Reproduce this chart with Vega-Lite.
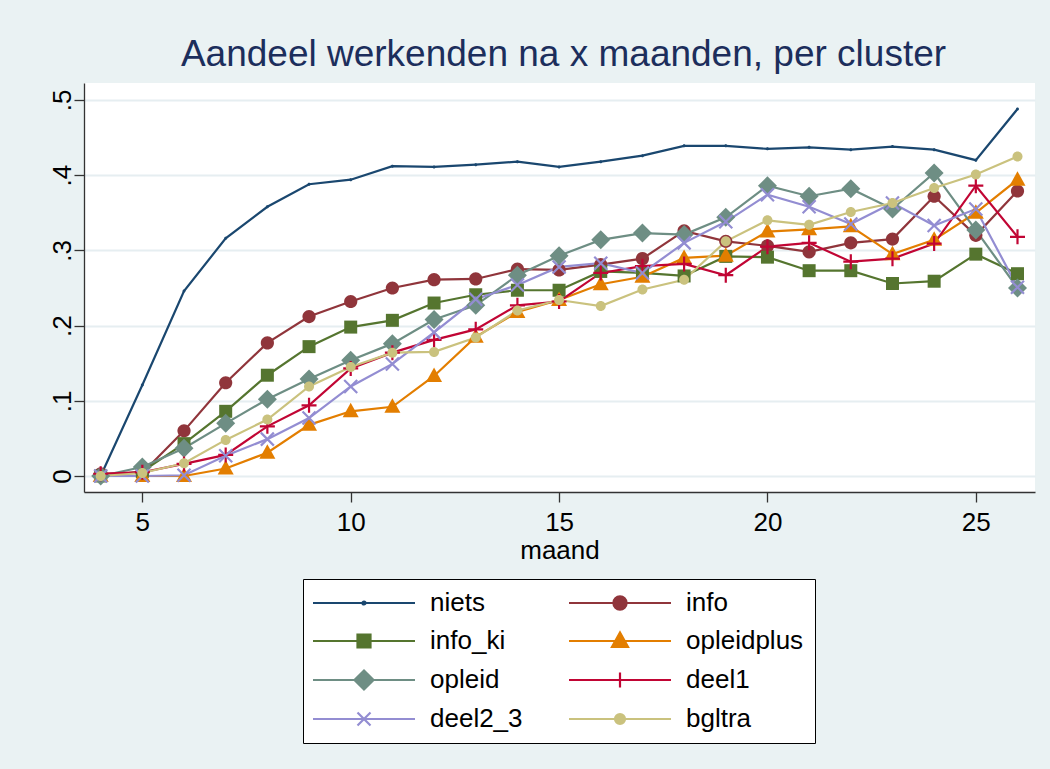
{
  "$schema": "https://vega.github.io/schema/vega-lite/v6.json",
  "autosize": {"type": "none"},
  "padding": {"left": 84, "top": 83, "right": 15, "bottom": 277},
  "width": 951,
  "height": 409,
  "background": "#EAF2F3",
  "view": {"fill": "white", "stroke": null},
  "config": {
    "font": "Liberation Sans",
    "axis": {"labelFont": "Liberation Sans", "titleFont": "Liberation Sans", "labelColor": "black", "titleColor": "black", "labelFontSize": 26, "titleFontSize": 26, "titleFontWeight": "normal", "domainColor": "#333333", "tickColor": "#333333", "tickSize": 10, "domainWidth": 1.3, "tickWidth": 1.3}
  },
  "title": {"text": "Aandeel werkenden na x maanden, per cluster", "font": "Liberation Sans", "fontSize": 37, "fontWeight": "normal", "color": "#1c2e5c", "anchor": "middle", "baseline": "alphabetic", "offset": 15, "dx": 4, "dy": 35},
  "data": {"values": [
    {"cluster":"niets","maand":4,"aandeel":0},{"cluster":"niets","maand":5,"aandeel":0.121},{"cluster":"niets","maand":6,"aandeel":0.246},{"cluster":"niets","maand":7,"aandeel":0.316},{"cluster":"niets","maand":8,"aandeel":0.358},{"cluster":"niets","maand":9,"aandeel":0.388},{"cluster":"niets","maand":10,"aandeel":0.394},{"cluster":"niets","maand":11,"aandeel":0.412},{"cluster":"niets","maand":12,"aandeel":0.411},{"cluster":"niets","maand":13,"aandeel":0.414},{"cluster":"niets","maand":14,"aandeel":0.418},{"cluster":"niets","maand":15,"aandeel":0.411},{"cluster":"niets","maand":16,"aandeel":0.418},{"cluster":"niets","maand":17,"aandeel":0.426},{"cluster":"niets","maand":18,"aandeel":0.439},{"cluster":"niets","maand":19,"aandeel":0.439},{"cluster":"niets","maand":20,"aandeel":0.435},{"cluster":"niets","maand":21,"aandeel":0.437},{"cluster":"niets","maand":22,"aandeel":0.434},{"cluster":"niets","maand":23,"aandeel":0.438},{"cluster":"niets","maand":24,"aandeel":0.434},{"cluster":"niets","maand":25,"aandeel":0.420},{"cluster":"niets","maand":26,"aandeel":0.488},
    {"cluster":"info","maand":4,"aandeel":0.003},{"cluster":"info","maand":5,"aandeel":0.004},{"cluster":"info","maand":6,"aandeel":0.060},{"cluster":"info","maand":7,"aandeel":0.124},{"cluster":"info","maand":8,"aandeel":0.177},{"cluster":"info","maand":9,"aandeel":0.212},{"cluster":"info","maand":10,"aandeel":0.232},{"cluster":"info","maand":11,"aandeel":0.250},{"cluster":"info","maand":12,"aandeel":0.261},{"cluster":"info","maand":13,"aandeel":0.262},{"cluster":"info","maand":14,"aandeel":0.275},{"cluster":"info","maand":15,"aandeel":0.274},{"cluster":"info","maand":16,"aandeel":0.281},{"cluster":"info","maand":17,"aandeel":0.289},{"cluster":"info","maand":18,"aandeel":0.326},{"cluster":"info","maand":19,"aandeel":0.312},{"cluster":"info","maand":20,"aandeel":0.306},{"cluster":"info","maand":21,"aandeel":0.298},{"cluster":"info","maand":22,"aandeel":0.310},{"cluster":"info","maand":23,"aandeel":0.315},{"cluster":"info","maand":24,"aandeel":0.372},{"cluster":"info","maand":25,"aandeel":0.320},{"cluster":"info","maand":26,"aandeel":0.379},
    {"cluster":"info_ki","maand":4,"aandeel":0},{"cluster":"info_ki","maand":5,"aandeel":0.006},{"cluster":"info_ki","maand":6,"aandeel":0.043},{"cluster":"info_ki","maand":7,"aandeel":0.086},{"cluster":"info_ki","maand":8,"aandeel":0.134},{"cluster":"info_ki","maand":9,"aandeel":0.172},{"cluster":"info_ki","maand":10,"aandeel":0.198},{"cluster":"info_ki","maand":11,"aandeel":0.207},{"cluster":"info_ki","maand":12,"aandeel":0.230},{"cluster":"info_ki","maand":13,"aandeel":0.241},{"cluster":"info_ki","maand":14,"aandeel":0.247},{"cluster":"info_ki","maand":15,"aandeel":0.247},{"cluster":"info_ki","maand":16,"aandeel":0.272},{"cluster":"info_ki","maand":17,"aandeel":0.270},{"cluster":"info_ki","maand":18,"aandeel":0.266},{"cluster":"info_ki","maand":19,"aandeel":0.292},{"cluster":"info_ki","maand":20,"aandeel":0.291},{"cluster":"info_ki","maand":21,"aandeel":0.273},{"cluster":"info_ki","maand":22,"aandeel":0.273},{"cluster":"info_ki","maand":23,"aandeel":0.256},{"cluster":"info_ki","maand":24,"aandeel":0.259},{"cluster":"info_ki","maand":25,"aandeel":0.295},{"cluster":"info_ki","maand":26,"aandeel":0.269},
    {"cluster":"opleidplus","maand":4,"aandeel":0},{"cluster":"opleidplus","maand":5,"aandeel":0},{"cluster":"opleidplus","maand":6,"aandeel":0},{"cluster":"opleidplus","maand":7,"aandeel":0.010},{"cluster":"opleidplus","maand":8,"aandeel":0.031},{"cluster":"opleidplus","maand":9,"aandeel":0.068},{"cluster":"opleidplus","maand":10,"aandeel":0.086},{"cluster":"opleidplus","maand":11,"aandeel":0.092},{"cluster":"opleidplus","maand":12,"aandeel":0.133},{"cluster":"opleidplus","maand":13,"aandeel":0.185},{"cluster":"opleidplus","maand":14,"aandeel":0.218},{"cluster":"opleidplus","maand":15,"aandeel":0.234},{"cluster":"opleidplus","maand":16,"aandeel":0.255},{"cluster":"opleidplus","maand":17,"aandeel":0.265},{"cluster":"opleidplus","maand":18,"aandeel":0.290},{"cluster":"opleidplus","maand":19,"aandeel":0.293},{"cluster":"opleidplus","maand":20,"aandeel":0.325},{"cluster":"opleidplus","maand":21,"aandeel":0.328},{"cluster":"opleidplus","maand":22,"aandeel":0.332},{"cluster":"opleidplus","maand":23,"aandeel":0.295},{"cluster":"opleidplus","maand":24,"aandeel":0.314},{"cluster":"opleidplus","maand":25,"aandeel":0.350},{"cluster":"opleidplus","maand":26,"aandeel":0.394},
    {"cluster":"opleid","maand":4,"aandeel":0},{"cluster":"opleid","maand":5,"aandeel":0.012},{"cluster":"opleid","maand":6,"aandeel":0.037},{"cluster":"opleid","maand":7,"aandeel":0.070},{"cluster":"opleid","maand":8,"aandeel":0.102},{"cluster":"opleid","maand":9,"aandeel":0.129},{"cluster":"opleid","maand":10,"aandeel":0.154},{"cluster":"opleid","maand":11,"aandeel":0.176},{"cluster":"opleid","maand":12,"aandeel":0.208},{"cluster":"opleid","maand":13,"aandeel":0.227},{"cluster":"opleid","maand":14,"aandeel":0.267},{"cluster":"opleid","maand":15,"aandeel":0.293},{"cluster":"opleid","maand":16,"aandeel":0.314},{"cluster":"opleid","maand":17,"aandeel":0.323},{"cluster":"opleid","maand":18,"aandeel":0.321},{"cluster":"opleid","maand":19,"aandeel":0.344},{"cluster":"opleid","maand":20,"aandeel":0.386},{"cluster":"opleid","maand":21,"aandeel":0.372},{"cluster":"opleid","maand":22,"aandeel":0.382},{"cluster":"opleid","maand":23,"aandeel":0.355},{"cluster":"opleid","maand":24,"aandeel":0.403},{"cluster":"opleid","maand":25,"aandeel":0.327},{"cluster":"opleid","maand":26,"aandeel":0.250},
    {"cluster":"deel1","maand":4,"aandeel":0.003},{"cluster":"deel1","maand":5,"aandeel":0.005},{"cluster":"deel1","maand":6,"aandeel":0.016},{"cluster":"deel1","maand":7,"aandeel":0.028},{"cluster":"deel1","maand":8,"aandeel":0.066},{"cluster":"deel1","maand":9,"aandeel":0.094},{"cluster":"deel1","maand":10,"aandeel":0.143},{"cluster":"deel1","maand":11,"aandeel":0.164},{"cluster":"deel1","maand":12,"aandeel":0.181},{"cluster":"deel1","maand":13,"aandeel":0.195},{"cluster":"deel1","maand":14,"aandeel":0.227},{"cluster":"deel1","maand":15,"aandeel":0.232},{"cluster":"deel1","maand":16,"aandeel":0.270},{"cluster":"deel1","maand":17,"aandeel":0.279},{"cluster":"deel1","maand":18,"aandeel":0.282},{"cluster":"deel1","maand":19,"aandeel":0.267},{"cluster":"deel1","maand":20,"aandeel":0.305},{"cluster":"deel1","maand":21,"aandeel":0.310},{"cluster":"deel1","maand":22,"aandeel":0.285},{"cluster":"deel1","maand":23,"aandeel":0.289},{"cluster":"deel1","maand":24,"aandeel":0.309},{"cluster":"deel1","maand":25,"aandeel":0.386},{"cluster":"deel1","maand":26,"aandeel":0.318},
    {"cluster":"deel2_3","maand":4,"aandeel":0},{"cluster":"deel2_3","maand":5,"aandeel":0},{"cluster":"deel2_3","maand":6,"aandeel":0.001},{"cluster":"deel2_3","maand":7,"aandeel":0.027},{"cluster":"deel2_3","maand":8,"aandeel":0.049},{"cluster":"deel2_3","maand":9,"aandeel":0.077},{"cluster":"deel2_3","maand":10,"aandeel":0.119},{"cluster":"deel2_3","maand":11,"aandeel":0.149},{"cluster":"deel2_3","maand":12,"aandeel":0.191},{"cluster":"deel2_3","maand":13,"aandeel":0.235},{"cluster":"deel2_3","maand":14,"aandeel":0.254},{"cluster":"deel2_3","maand":15,"aandeel":0.278},{"cluster":"deel2_3","maand":16,"aandeel":0.283},{"cluster":"deel2_3","maand":17,"aandeel":0.270},{"cluster":"deel2_3","maand":18,"aandeel":0.310},{"cluster":"deel2_3","maand":19,"aandeel":0.338},{"cluster":"deel2_3","maand":20,"aandeel":0.374},{"cluster":"deel2_3","maand":21,"aandeel":0.358},{"cluster":"deel2_3","maand":22,"aandeel":0.335},{"cluster":"deel2_3","maand":23,"aandeel":0.363},{"cluster":"deel2_3","maand":24,"aandeel":0.333},{"cluster":"deel2_3","maand":25,"aandeel":0.355},{"cluster":"deel2_3","maand":26,"aandeel":0.251},
    {"cluster":"bgltra","maand":4,"aandeel":0},{"cluster":"bgltra","maand":5,"aandeel":0.004},{"cluster":"bgltra","maand":6,"aandeel":0.017},{"cluster":"bgltra","maand":7,"aandeel":0.048},{"cluster":"bgltra","maand":8,"aandeel":0.075},{"cluster":"bgltra","maand":9,"aandeel":0.119},{"cluster":"bgltra","maand":10,"aandeel":0.145},{"cluster":"bgltra","maand":11,"aandeel":0.164},{"cluster":"bgltra","maand":12,"aandeel":0.165},{"cluster":"bgltra","maand":13,"aandeel":0.184},{"cluster":"bgltra","maand":14,"aandeel":0.220},{"cluster":"bgltra","maand":15,"aandeel":0.234},{"cluster":"bgltra","maand":16,"aandeel":0.226},{"cluster":"bgltra","maand":17,"aandeel":0.248},{"cluster":"bgltra","maand":18,"aandeel":0.261},{"cluster":"bgltra","maand":19,"aandeel":0.312},{"cluster":"bgltra","maand":20,"aandeel":0.340},{"cluster":"bgltra","maand":21,"aandeel":0.334},{"cluster":"bgltra","maand":22,"aandeel":0.351},{"cluster":"bgltra","maand":23,"aandeel":0.363},{"cluster":"bgltra","maand":24,"aandeel":0.383},{"cluster":"bgltra","maand":25,"aandeel":0.401},{"cluster":"bgltra","maand":26,"aandeel":0.425}
  ]},
  "encoding": {
    "x": {"field": "maand", "type": "quantitative", "scale": {"domain": [3.6, 26.42], "nice": false, "zero": false},
      "axis": {"values": [5, 10, 15, 20, 25], "grid": false, "labelPadding": 7, "title": "maand", "titlePadding": 2, "labelFlush": false}},
    "y": {"field": "aandeel", "type": "quantitative", "scale": {"domain": [-0.0213, 0.5226], "nice": false, "zero": false},
      "axis": {"values": [0, 0.1, 0.2, 0.3, 0.4, 0.5], "grid": true, "gridColor": "#E6EEF1", "gridWidth": 2, "labelAngle": -90, "labelAlign": "center", "labelBaseline": "alphabetic", "labelPadding": 4, "labelFlush": false, "title": null,
        "labelExpr": "datum.value == 0 ? '0' : replace(format(datum.value, '.1f'), '0.', '.')"}},
    "color": {"field": "cluster", "type": "nominal",
      "scale": {"domain": ["niets", "info", "info_ki", "opleidplus", "opleid", "deel1", "deel2_3", "bgltra"],
                "range": ["#1A476F", "#90353B", "#55752F", "#E37E00", "#6E8E84", "#C10534", "#938DD2", "#CAC27E"]},
      "legend": {
        "orient": "none", "legendX": 219, "legendY": 496, "columns": 2, "direction": "horizontal", "title": null,
        "padding": 11, "strokeColor": "black", "fillColor": "white",
        "labelFont": "Liberation Sans", "labelFontSize": 26, "labelColor": "black", "labelOffset": 90, "labelLimit": 300,
        "symbolSize": 4, "symbolStrokeWidth": 2.2, "rowPadding": 12, "columnPadding": 41,
        "encode": {"symbols": {"update": {
          "shape": {"signal": "['M-14,0H88M35.5,0A1.5,1.5 0 1,1 38.5,0A1.5,1.5 0 1,1 35.5,0Z','M-14,0H88M30.4,0A6.6,6.6 0 1,1 43.6,0A6.6,6.6 0 1,1 30.4,0Z','M-14,0H88M30.5,-6.5H43.5V6.5H30.5Z','M-14,0H88M37,-8.5L45,6H29Z','M-14,0H88M37,-9.5L46.5,0L37,9.5L27.5,0Z','M-14,0H88M37,-7.5V7.5','M-14,0H88M30.5,-6.5L43.5,6.5M30.5,6.5L43.5,-6.5','M-14,0H88M32,0A5,5 0 1,1 42,0A5,5 0 1,1 32,0Z'][indexof(['niets','info','info_ki','opleidplus','opleid','deel1','deel2_3','bgltra'], datum.value)]"},
          "fill": {"signal": "scale('color', datum.value)"},
          "stroke": {"signal": "scale('color', datum.value)"},
          "strokeWidth": {"value": 2.2},
          "size": {"value": 4}
        }}}
      }
    }
  },
  "layer": [
    {"mark": {"type": "line", "strokeWidth": 2.2}, "encoding": {"order": {"field": "maand", "type": "quantitative"}}},
    {"transform": [{"filter": "datum.cluster == 'niets'"}], "mark": {"type": "point", "filled": true, "size": 4, "opacity": 1, "shape": "M-1.5,0A1.5,1.5 0 1,1 1.5,0A1.5,1.5 0 1,1 -1.5,0Z"}},
    {"transform": [{"filter": "datum.cluster == 'info'"}], "mark": {"type": "point", "filled": true, "size": 4, "opacity": 1, "shape": "M-6.6,0A6.6,6.6 0 1,1 6.6,0A6.6,6.6 0 1,1 -6.6,0Z"}},
    {"transform": [{"filter": "datum.cluster == 'info_ki'"}], "mark": {"type": "point", "filled": true, "size": 4, "opacity": 1, "shape": "M-6.5,-6.5H6.5V6.5H-6.5Z"}},
    {"transform": [{"filter": "datum.cluster == 'opleidplus'"}], "mark": {"type": "point", "filled": true, "size": 4, "opacity": 1, "shape": "M0,-8.5L8,6H-8Z"}},
    {"transform": [{"filter": "datum.cluster == 'opleid'"}], "mark": {"type": "point", "filled": true, "size": 4, "opacity": 1, "shape": "M0,-9.5L9.5,0L0,9.5L-9.5,0Z"}},
    {"transform": [{"filter": "datum.cluster == 'deel1'"}], "mark": {"type": "point", "filled": false, "size": 4, "opacity": 1, "strokeWidth": 2.2, "shape": "M-7.5,0H7.5M0,-7.5V7.5"}},
    {"transform": [{"filter": "datum.cluster == 'deel2_3'"}], "mark": {"type": "point", "filled": false, "size": 4, "opacity": 1, "strokeWidth": 2.2, "shape": "M-6.5,-6.5L6.5,6.5M-6.5,6.5L6.5,-6.5"}},
    {"transform": [{"filter": "datum.cluster == 'bgltra'"}], "mark": {"type": "point", "filled": true, "size": 4, "opacity": 1, "shape": "M-5,0A5,5 0 1,1 5,0A5,5 0 1,1 -5,0Z"}}
  ]
}
